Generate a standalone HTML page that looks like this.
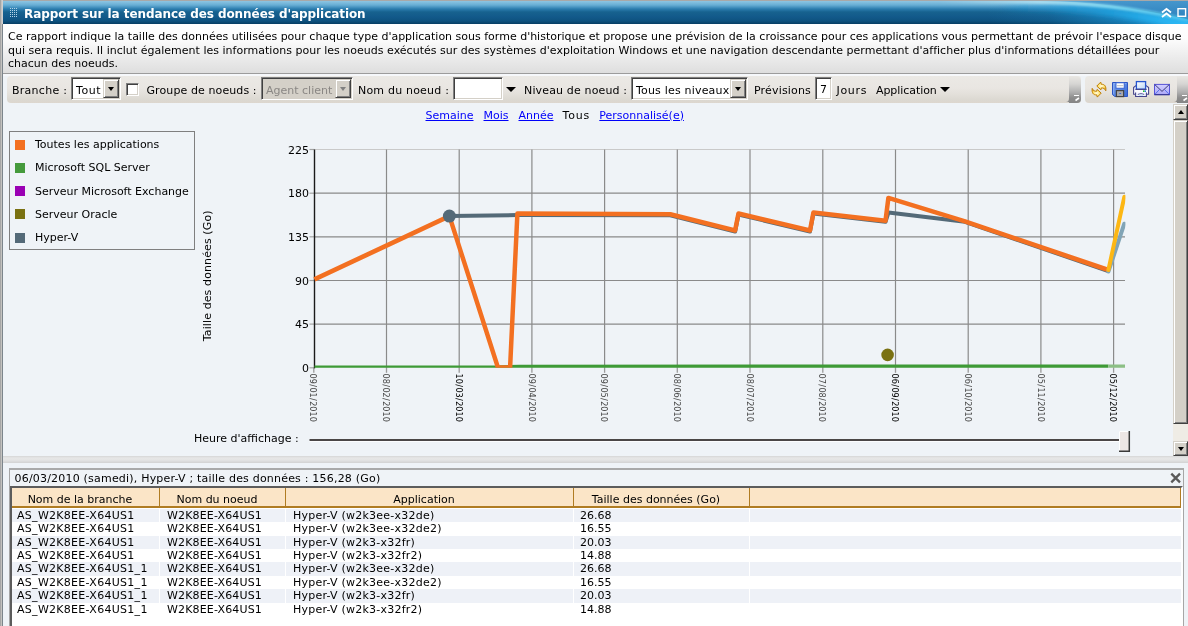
<!DOCTYPE html>
<html lang="fr">
<head>
<meta charset="utf-8">
<title>Rapport sur la tendance des données d'application</title>
<style>
html,body{margin:0;padding:0;}
body{width:1188px;height:626px;overflow:hidden;position:relative;background:#eff3f7;font-family:"DejaVu Sans","Liberation Sans",sans-serif;font-size:11px;color:#000;}
#wrap{position:absolute;left:0;top:0;width:1188px;height:626px;overflow:hidden;will-change:transform;}
.abs{position:absolute;}
.t{position:absolute;white-space:nowrap;line-height:13px;}
#lb{left:0;top:0;width:1px;height:626px;background:#a6a6a6;}
#lb2{left:1px;top:0;width:1px;height:626px;background:#c4c3c0;}
#lb3{left:2px;top:0;width:1px;height:626px;background:linear-gradient(#d0d0d0 0,#d0d0d0 24px,#7c858c 24px);}
#topline{left:0;top:0;width:1188px;height:1px;background:#a8a8a8;}
#titlebar{left:3px;top:1px;width:1185px;height:23px;background:linear-gradient(#8ec5e2 0px,#68aed5 4px,#2b7cae 8px,#17628f 11px,#12598a 16px,#0e527f 20px,#073e63 23px);overflow:hidden;}
#title{left:24px;top:7px;color:#fff;font-weight:bold;font-size:12px;line-height:15px;letter-spacing:-0.07px;}
#desc{left:3px;top:24px;width:1185px;height:49px;background:linear-gradient(#ffffff 0,#fdfdfd 14px,#ebebeb 34px,#dedede 49px);}
#descline{left:3px;top:73px;width:1185px;height:1px;background:#9c9c9c;}
#descline2{left:3px;top:74px;width:1185px;height:2px;background:#f6f8fb;}
.tb{background:linear-gradient(#ebe9e5 0,#e9e6e2 12px,#e2dfd9 19px,#dbd8d1 24px,#ddd6ce 27px);}
#tb1{left:7px;top:76px;width:1074px;height:27px;border-radius:4px 3px 3px 4px;}
#tb2{left:1085px;top:76px;width:103px;height:27px;border-radius:4px 0 0 4px;}
.grip{background:linear-gradient(#e9e7e3 0,#d6d5d3 8px,#b0b0b0 16px,#8c8c8c 22px,#868686 26px);}
#g1{left:1069px;top:76px;width:12px;height:27px;border-radius:0 5px 4px 0;}
#g2{left:1177px;top:76px;width:11px;height:27px;}
.sel{position:absolute;box-sizing:border-box;height:23px;background:#fff;border:1px solid;border-color:#808080 #fff #fff #808080;box-shadow:inset 1px 1px 0 #404040, inset -1px -1px 0 #d4d0c8;}
.sel.dis{background:#d4d0c8;}
.sel .btn{position:absolute;right:1px;top:1px;bottom:1px;width:16px;box-sizing:border-box;background:#d4d0c8;border:1px solid;border-color:#d4d0c8 #404040 #404040 #d4d0c8;box-shadow:inset 1px 1px 0 #fff, inset -1px -1px 0 #808080;}
.sel .txt{position:absolute;left:4px;top:5.5px;line-height:13px;white-space:nowrap;}
.tri{position:absolute;width:0;height:0;border-style:solid;border-color:#000 transparent transparent transparent;}
.inp{position:absolute;box-sizing:border-box;height:23px;background:#fff;border:1px solid;border-color:#808080 #fff #fff #808080;box-shadow:inset 1px 1px 0 #404040, inset -1px -1px 0 #d4d0c8;}
a.lk{color:#0000fa;text-decoration:underline;}
#sb{left:1173px;top:104px;width:15px;height:352px;background:#efece5;}
.sbb{position:absolute;left:0;width:15px;box-sizing:border-box;background:#d4d0c8;border:1px solid;border-color:#d4d0c8 #404040 #404040 #d4d0c8;box-shadow:inset 1px 1px 0 #fff, inset -1px -1px 0 #808080;}
#split{left:3px;top:456px;width:1185px;height:7px;background:linear-gradient(#d6d6d6 0,#e6e6e6 2px,#e4e4e4 4px,#d2d2d2 7px);}
#panel{left:9px;top:468px;width:1175px;height:160px;box-sizing:border-box;border:1px solid #a6a6a6;border-top:2px solid #a9a9a9;border-bottom:none;}
#tframe{left:10px;top:486px;width:1173px;height:142px;box-sizing:border-box;border:2px solid;border-color:#5c5c5c #fff #fff #5c5c5c;background:#fff;}
.hc{position:absolute;top:488px;height:18px;background:#fbe5c7;border-bottom:2px solid #b07c22;border-right:1px solid #b07c22;box-sizing:content-box;text-align:center;line-height:23px;white-space:nowrap;padding-right:11px;}
.row{position:absolute;left:12px;width:1169px;}
.row.odd{background:#eef1f7;}
.c{position:absolute;top:0;white-space:nowrap;}
.vsep{position:absolute;top:508px;width:1px;height:107px;background:#fff;}
</style>
</head>
<body>
<div id="wrap">
<div class="abs" id="titlebar"><svg width="1185" height="23" viewBox="3 1 1185 23" style="position:absolute;left:0;top:0"><defs><linearGradient id="sw1" x1="1000" y1="60" x2="1188" y2="6" gradientUnits="userSpaceOnUse"><stop offset="0" stop-color="#1f9ee0" stop-opacity="0"/><stop offset="0.3" stop-color="#1f9ee0" stop-opacity="0.12"/><stop offset="0.65" stop-color="#1f9ee0" stop-opacity="0.55"/><stop offset="1" stop-color="#27b0f0" stop-opacity="1"/></linearGradient><linearGradient id="sw2" x1="940" y1="0" x2="1188" y2="0" gradientUnits="userSpaceOnUse"><stop offset="0" stop-color="#bfeaf6" stop-opacity="0"/><stop offset="0.4" stop-color="#bfeaf6" stop-opacity="0.75"/><stop offset="0.75" stop-color="#7fdcf4" stop-opacity="0.9"/><stop offset="1" stop-color="#4cc4f0" stop-opacity="0.9"/></linearGradient><linearGradient id="sw3" x1="0" y1="1" x2="0" y2="20" gradientUnits="userSpaceOnUse"><stop offset="0" stop-color="#4696cc"/><stop offset="1" stop-color="#2a7fbc"/></linearGradient><linearGradient id="sw4" x1="1000" y1="0" x2="1188" y2="0" gradientUnits="userSpaceOnUse"><stop offset="0" stop-color="#22b2f2" stop-opacity="0"/><stop offset="0.5" stop-color="#22b2f2" stop-opacity="0.45"/><stop offset="1" stop-color="#2cbaf6" stop-opacity="0.95"/></linearGradient><filter id="bl2" x="-5%" y="-100%" width="110%" height="300%"><feGaussianBlur stdDeviation="2.2"/></filter><filter id="bl" x="-5%" y="-50%" width="110%" height="200%"><feGaussianBlur stdDeviation="1"/></filter></defs><path d="M980,1 L1030,1.5 Q1109,1.5 1188,19.5 L1188,24 L980,24 Z" fill="url(#sw1)"/><path d="M1000,7.5 L1030,7.5 Q1109,7.5 1188,26" fill="none" stroke="url(#sw4)" stroke-width="9" filter="url(#bl2)"/><path d="M1040,1 Q1112,1.5 1188,18.5 L1188,1 Z" fill="url(#sw3)"/><path d="M940,1.8 L1030,2 Q1109,2 1188,20" fill="none" stroke="url(#sw2)" stroke-width="3.6" filter="url(#bl)"/></svg></div>
<div class="abs" id="topline"></div>
<div class="abs" id="desc"></div><div class="abs" id="descline"></div><div class="abs" id="descline2"></div>
<div class="abs" id="lb"></div><div class="abs" id="lb2"></div><div class="abs" id="lb3"></div>
<svg class="abs" style="left:0;top:0" width="30" height="25" fill="#b4d4e8"><rect x="10" y="8" width="1" height="1"/><rect x="10" y="10" width="1" height="1"/><rect x="10" y="12" width="1" height="1"/><rect x="10" y="14" width="1" height="1"/><rect x="10" y="16" width="1" height="1"/><rect x="12" y="8" width="1" height="1"/><rect x="12" y="10" width="1" height="1"/><rect x="12" y="12" width="1" height="1"/><rect x="12" y="14" width="1" height="1"/><rect x="12" y="16" width="1" height="1"/><rect x="14" y="8" width="1" height="1"/><rect x="14" y="10" width="1" height="1"/><rect x="14" y="12" width="1" height="1"/><rect x="14" y="14" width="1" height="1"/><rect x="14" y="16" width="1" height="1"/><rect x="16" y="8" width="1" height="1"/><rect x="16" y="10" width="1" height="1"/><rect x="16" y="12" width="1" height="1"/><rect x="16" y="14" width="1" height="1"/><rect x="16" y="16" width="1" height="1"/></svg>
<div class="t" id="title">Rapport sur la tendance des données d'application</div>
<svg class="abs" style="left:1158px;top:5px" width="30" height="16" viewBox="1158 5 30 16"><path d="M1162,12.5 L1166.5,9 L1171,12.5 M1162,17 L1166.5,13.5 L1171,17" fill="none" stroke="#fff" stroke-width="1.8"/><rect x="1178" y="8.7" width="7.6" height="7.6" fill="none" stroke="#fff" stroke-width="1.4"/></svg>
<div class="t" style="left:8px;top:30px;">Ce rapport indique la taille des données utilisées pour chaque type d'application sous forme d'historique et propose une prévision de la croissance pour ces applications vous permettant de prévoir l'espace disque</div>
<div class="t" style="left:8px;top:44px;letter-spacing:0.015px">qui sera requis. Il inclut également les informations pour les noeuds exécutés sur des systèmes d'exploitation Windows et une navigation descendante permettant d'afficher plus d'informations détaillées pour</div>
<div class="t" style="left:8px;top:57px;">chacun des noeuds.</div>
<div class="abs tb" id="tb1"></div><div class="abs grip" id="g1"></div>
<div class="abs tb" id="tb2"></div><div class="abs grip" id="g2"></div>
<svg class="abs" style="left:1066px;top:76px" width="122" height="27" viewBox="1066 76 122 27"><path d="M1066,102 Q1069,102 1069,98 L1069,102 Z" fill="#8a8a8a"/><rect x="1074" y="95" width="5" height="1" fill="#fff"/><path d="M1075.5,100.5 L1079,98" stroke="#fff" stroke-width="1.6" fill="none"/><path d="M1174,102 Q1177,102 1177,98 L1177,102 Z" fill="#8a8a8a"/><rect x="1182" y="95" width="5" height="1" fill="#fff"/><path d="M1183.5,100.5 L1187,98" stroke="#fff" stroke-width="1.6" fill="none"/></svg>
<div class="t" style="left:12px;top:83.5px;letter-spacing:0.27px">Branche :</div>
<div class="sel" style="left:71px;top:77px;width:50px;"><span class="txt" style="letter-spacing:0.6px">Tout</span><span class="btn"></span><span class="tri" style="left:36px;top:9px;border-width:4px 3.5px 0 3.5px;"></span></div>
<div class="inp" style="left:126px;top:83px;width:13px;height:13px;"></div>
<div class="t" style="left:146.5px;top:83.5px;letter-spacing:0.1px">Groupe de noeuds :</div>
<div class="sel dis" style="left:261px;top:77px;width:92px;"><span class="txt" style="color:#8a8784">Agent client</span><span class="btn"></span><span class="tri" style="left:78px;top:9px;border-width:4px 3.5px 0 3.5px;border-top-color:#808080"></span></div>
<div class="t" style="left:358px;top:83.5px;letter-spacing:0.2px">Nom du noeud :</div>
<div class="inp" style="left:453px;top:77px;width:50px;"></div>
<span class="tri" style="left:506px;top:87px;border-width:5px 5px 0 5px;"></span>
<div class="t" style="left:524px;top:83.5px;letter-spacing:0.15px">Niveau de noeud :</div>
<div class="sel" style="left:631px;top:77px;width:117px;"><span class="txt" style="letter-spacing:0.19px">Tous les niveaux</span><span class="btn"></span><span class="tri" style="left:103px;top:9px;border-width:4px 3.5px 0 3.5px;"></span></div>
<div class="t" style="left:754px;top:83.5px;letter-spacing:0.17px">Prévisions</div>
<div class="inp" style="left:815px;top:77px;width:17px;"><span class="t" style="left:4px;top:4.5px">7</span></div>
<div class="t" style="left:836.5px;top:83.5px;letter-spacing:0.7px">Jours</div>
<div class="t" style="left:876px;top:83.5px;letter-spacing:-0.07px">Application</div>
<span class="tri" style="left:939.5px;top:87px;border-width:5px 5px 0 5px;"></span>
<svg class="abs" style="left:1088px;top:78px" width="86" height="22" viewBox="1088 78 86 22">
<defs><radialGradient id="gy" cx="0.5" cy="0.45" r="0.6"><stop offset="0" stop-color="#fffce8"/><stop offset="0.55" stop-color="#ffe36e"/><stop offset="1" stop-color="#f8b418"/></radialGradient><linearGradient id="gb" x1="0" y1="0" x2="1" y2="1"><stop offset="0" stop-color="#7da6ee"/><stop offset="1" stop-color="#3467d6"/></linearGradient><linearGradient id="gp" x1="0" y1="0" x2="1" y2="1"><stop offset="0" stop-color="#ffffff"/><stop offset="1" stop-color="#b9d6f7"/></linearGradient><linearGradient id="gm" x1="0" y1="0" x2="0" y2="1"><stop offset="0" stop-color="#d2cfff"/><stop offset="1" stop-color="#aca8f8"/></linearGradient></defs>
<g stroke="#bd7d08" stroke-width="1" stroke-linejoin="round" fill="url(#gy)"><path d="M1096.8,86.1 L1100.7,82.1 L1101.4,84.4 C1104.6,83.9 1106.4,86.4 1105.8,90.8 C1104.9,88.6 1103.4,87.8 1101.4,87.9 L1100.9,89.8 Z"/><path d="M1096.8,86.1 L1100.7,82.1 L1101.4,84.4 C1104.6,83.9 1106.4,86.4 1105.8,90.8 C1104.9,88.6 1103.4,87.8 1101.4,87.9 L1100.9,89.8 Z" transform="rotate(180 1099 89.6)"/></g>
<path d="M1112.5,82.5 L1127.5,82.5 L1127.5,96.5 L1114.8,96.5 L1112.5,94.6 Z" fill="url(#gb)" stroke="#2c55c4" stroke-width="1"/>
<path d="M1113.6,94 L1113.6,83.6 L1126.4,83.6" fill="none" stroke="#8fb3f2" stroke-width="0.8"/>
<rect x="1116" y="82.8" width="8.2" height="5.4" fill="#fff" stroke="#2f5bd0" stroke-width="0.9"/><rect x="1117" y="85.2" width="6.2" height="1" fill="#b9bdc1"/>
<rect x="1116.4" y="90.6" width="7.2" height="6" fill="#a9a9ab" stroke="#454545" stroke-width="1.2"/><rect x="1119.3" y="93" width="1.8" height="1" fill="#3a66d6"/>
<path d="M1133.6,87.5 L1136,85.6 L1146,85.6 L1148.6,87.5 L1148.6,94.3 L1133.6,94.3 Z" fill="#fafaff" stroke="#45458c" stroke-width="1.1" stroke-linejoin="round"/>
<rect x="1136.4" y="81.6" width="9.2" height="7.6" fill="url(#gp)" stroke="#2756cf" stroke-width="1.3"/>
<path d="M1135.4,89.4 L1146.6,89.4" stroke="#45458c" stroke-width="1.1"/>
<rect x="1143" y="90.4" width="1.6" height="1.6" fill="#27c227"/><rect x="1144.6" y="90.4" width="1.4" height="1.6" fill="#2a78e0"/>
<path d="M1135.6,92.6 L1135.6,96.5 L1146.4,96.5 L1146.4,92.6" fill="#f4f6ff" stroke="#45458c" stroke-width="1.1"/>
<path d="M1137.8,94.4 Q1141,92.8 1144.2,94.4" fill="none" stroke="#45458c" stroke-width="0.9"/><rect x="1139" y="94.5" width="4" height="1.2" fill="#bcdcf8"/>
<rect x="1154.5" y="84.4" width="15" height="10.2" fill="url(#gm)" stroke="#5654d6" stroke-width="1"/>
<path d="M1154.5,94.7 L1169.5,94.7" stroke="#34348e" stroke-width="1.1"/>
<path d="M1155,94.2 L1159.4,89.6 M1169,94.2 L1164.6,89.6" stroke="#4a6ae8" stroke-width="0.9" fill="none"/>
<path d="M1154.8,84.6 L1162,91.4 L1169.2,84.6" stroke="#3c3c78" stroke-width="1" fill="none"/>
</svg>
<div class="t" style="left:425.5px;top:108.7px;"><a class="lk">Semaine</a></div>
<div class="t" style="left:483.5px;top:108.7px;"><a class="lk">Mois</a></div>
<div class="t" style="left:518.5px;top:108.7px;"><a class="lk">Année</a></div>
<div class="t" style="left:562.5px;top:108.7px;letter-spacing:0.8px">Tous</div>
<div class="t" style="left:599.3px;top:108.7px;"><a class="lk">Personnalisé(e)</a></div>
<div class="abs" id="sb"><div class="sbb" style="top:0;height:16px"></div><div class="sbb" style="top:16px;height:304px"></div><div class="sbb" style="top:337px;height:15px"></div><span class="tri" style="left:5px;top:6px;border-width:0 3.5px 4px 3.5px;border-color:transparent transparent #000 transparent"></span><span class="tri" style="left:5px;top:342.5px;border-width:4px 3.5px 0 3.5px;"></span></div>
<div class="abs" style="left:9px;top:131px;width:186px;height:119px;box-sizing:border-box;border:1px solid #7f7f7f;"></div>
<div class="abs" style="left:15px;top:139.5px;width:10px;height:10px;background:#f37021"></div>
<div class="t" style="left:35px;top:138.1px;">Toutes les applications</div>
<div class="abs" style="left:15px;top:162.8px;width:10px;height:10px;background:#459a3c"></div>
<div class="t" style="left:35px;top:161.4px;">Microsoft SQL Server</div>
<div class="abs" style="left:15px;top:186.1px;width:10px;height:10px;background:#9a00b4"></div>
<div class="t" style="left:35px;top:184.7px;">Serveur Microsoft Exchange</div>
<div class="abs" style="left:15px;top:209.4px;width:10px;height:10px;background:#7a7112"></div>
<div class="t" style="left:35px;top:208.0px;">Serveur Oracle</div>
<div class="abs" style="left:15px;top:232.7px;width:10px;height:10px;background:#546a78"></div>
<div class="t" style="left:35px;top:231.3px;">Hyper-V</div>
<svg class="abs" style="left:0;top:104px" width="1172" height="352" viewBox="0 104 1172 352" font-family="'DejaVu Sans','Liberation Sans',sans-serif">
<g><line x1="314.5" y1="149.5" x2="1125" y2="149.5" stroke="#c9c9c9" stroke-width="1.2"/><line x1="314.5" y1="193.2" x2="1125" y2="193.2" stroke="#8a8a8a" stroke-width="1.2"/><line x1="314.5" y1="236.8" x2="1125" y2="236.8" stroke="#8a8a8a" stroke-width="1.2"/><line x1="314.5" y1="280.5" x2="1125" y2="280.5" stroke="#8a8a8a" stroke-width="1.2"/><line x1="314.5" y1="324.1" x2="1125" y2="324.1" stroke="#8a8a8a" stroke-width="1.2"/><line x1="386.5" y1="149.5" x2="386.5" y2="367.8" stroke="#8a8a8a" stroke-width="1.2"/><line x1="459.2" y1="149.5" x2="459.2" y2="367.8" stroke="#8a8a8a" stroke-width="1.2"/><line x1="531.9" y1="149.5" x2="531.9" y2="367.8" stroke="#8a8a8a" stroke-width="1.2"/><line x1="604.6" y1="149.5" x2="604.6" y2="367.8" stroke="#8a8a8a" stroke-width="1.2"/><line x1="677.3" y1="149.5" x2="677.3" y2="367.8" stroke="#8a8a8a" stroke-width="1.2"/><line x1="750.0" y1="149.5" x2="750.0" y2="367.8" stroke="#8a8a8a" stroke-width="1.2"/><line x1="822.8" y1="149.5" x2="822.8" y2="367.8" stroke="#8a8a8a" stroke-width="1.2"/><line x1="895.5" y1="149.5" x2="895.5" y2="367.8" stroke="#8a8a8a" stroke-width="1.2"/><line x1="968.2" y1="149.5" x2="968.2" y2="367.8" stroke="#8a8a8a" stroke-width="1.2"/><line x1="1040.9" y1="149.5" x2="1040.9" y2="367.8" stroke="#8a8a8a" stroke-width="1.2"/><line x1="1113.6" y1="149.5" x2="1113.6" y2="367.8" stroke="#8a8a8a" stroke-width="1.2"/><line x1="309.5" y1="149.5" x2="314.5" y2="149.5" stroke="#a4a4a4" stroke-width="1.2"/><line x1="309.5" y1="193.2" x2="314.5" y2="193.2" stroke="#a4a4a4" stroke-width="1.2"/><line x1="309.5" y1="236.8" x2="314.5" y2="236.8" stroke="#a4a4a4" stroke-width="1.2"/><line x1="309.5" y1="280.5" x2="314.5" y2="280.5" stroke="#a4a4a4" stroke-width="1.2"/><line x1="309.5" y1="324.1" x2="314.5" y2="324.1" stroke="#a4a4a4" stroke-width="1.2"/><line x1="309.5" y1="367.8" x2="314.5" y2="367.8" stroke="#a4a4a4" stroke-width="1.2"/><line x1="313.8" y1="367.8" x2="313.8" y2="372.8" stroke="#9a9a9a" stroke-width="1.3"/><line x1="386.5" y1="367.8" x2="386.5" y2="372.8" stroke="#9a9a9a" stroke-width="1.3"/><line x1="459.2" y1="367.8" x2="459.2" y2="372.8" stroke="#9a9a9a" stroke-width="1.3"/><line x1="531.9" y1="367.8" x2="531.9" y2="372.8" stroke="#9a9a9a" stroke-width="1.3"/><line x1="604.6" y1="367.8" x2="604.6" y2="372.8" stroke="#9a9a9a" stroke-width="1.3"/><line x1="677.3" y1="367.8" x2="677.3" y2="372.8" stroke="#9a9a9a" stroke-width="1.3"/><line x1="750.0" y1="367.8" x2="750.0" y2="372.8" stroke="#9a9a9a" stroke-width="1.3"/><line x1="822.8" y1="367.8" x2="822.8" y2="372.8" stroke="#9a9a9a" stroke-width="1.3"/><line x1="895.5" y1="367.8" x2="895.5" y2="372.8" stroke="#9a9a9a" stroke-width="1.3"/><line x1="968.2" y1="367.8" x2="968.2" y2="372.8" stroke="#9a9a9a" stroke-width="1.3"/><line x1="1040.9" y1="367.8" x2="1040.9" y2="372.8" stroke="#9a9a9a" stroke-width="1.3"/><line x1="1113.6" y1="367.8" x2="1113.6" y2="372.8" stroke="#9a9a9a" stroke-width="1.3"/></g>
<line x1="314.5" y1="149.5" x2="314.5" y2="368.3" stroke="#1a1a1a" stroke-width="1.4"/>
<text x="309" y="153.7" font-size="11" text-anchor="end">225</text>
<text x="309" y="197.4" font-size="11" text-anchor="end">180</text>
<text x="309" y="241.0" font-size="11" text-anchor="end">135</text>
<text x="309" y="284.7" font-size="11" text-anchor="end">90</text>
<text x="309" y="328.3" font-size="11" text-anchor="end">45</text>
<text x="309" y="372.0" font-size="11" text-anchor="end">0</text>
<text transform="translate(310.4,373.6) rotate(90)" font-size="8.15" fill="#484848">09<tspan dx="0.35">/</tspan><tspan dx="0.35">01</tspan><tspan dx="0.35">/</tspan><tspan dx="0.35">2010</tspan></text>
<text transform="translate(383.1,373.6) rotate(90)" font-size="8.15" fill="#484848">08<tspan dx="0.35">/</tspan><tspan dx="0.35">02</tspan><tspan dx="0.35">/</tspan><tspan dx="0.35">2010</tspan></text>
<text transform="translate(455.8,373.6) rotate(90)" font-size="8.15" fill="#000">10<tspan dx="0.35">/</tspan><tspan dx="0.35">03</tspan><tspan dx="0.35">/</tspan><tspan dx="0.35">2010</tspan></text>
<text transform="translate(528.5,373.6) rotate(90)" font-size="8.15" fill="#484848">09<tspan dx="0.35">/</tspan><tspan dx="0.35">04</tspan><tspan dx="0.35">/</tspan><tspan dx="0.35">2010</tspan></text>
<text transform="translate(601.2,373.6) rotate(90)" font-size="8.15" fill="#484848">09<tspan dx="0.35">/</tspan><tspan dx="0.35">05</tspan><tspan dx="0.35">/</tspan><tspan dx="0.35">2010</tspan></text>
<text transform="translate(673.9,373.6) rotate(90)" font-size="8.15" fill="#484848">08<tspan dx="0.35">/</tspan><tspan dx="0.35">06</tspan><tspan dx="0.35">/</tspan><tspan dx="0.35">2010</tspan></text>
<text transform="translate(746.6,373.6) rotate(90)" font-size="8.15" fill="#484848">08<tspan dx="0.35">/</tspan><tspan dx="0.35">07</tspan><tspan dx="0.35">/</tspan><tspan dx="0.35">2010</tspan></text>
<text transform="translate(819.4,373.6) rotate(90)" font-size="8.15" fill="#484848">07<tspan dx="0.35">/</tspan><tspan dx="0.35">08</tspan><tspan dx="0.35">/</tspan><tspan dx="0.35">2010</tspan></text>
<text transform="translate(892.1,373.6) rotate(90)" font-size="8.15" fill="#000">06<tspan dx="0.35">/</tspan><tspan dx="0.35">09</tspan><tspan dx="0.35">/</tspan><tspan dx="0.35">2010</tspan></text>
<text transform="translate(964.8,373.6) rotate(90)" font-size="8.15" fill="#484848">06<tspan dx="0.35">/</tspan><tspan dx="0.35">10</tspan><tspan dx="0.35">/</tspan><tspan dx="0.35">2010</tspan></text>
<text transform="translate(1037.5,373.6) rotate(90)" font-size="8.15" fill="#484848">05<tspan dx="0.35">/</tspan><tspan dx="0.35">11</tspan><tspan dx="0.35">/</tspan><tspan dx="0.35">2010</tspan></text>
<text transform="translate(1110.2,373.6) rotate(90)" font-size="8.15" fill="#000">05<tspan dx="0.35">/</tspan><tspan dx="0.35">12</tspan><tspan dx="0.35">/</tspan><tspan dx="0.35">2010</tspan></text>
<text transform="translate(211.3,341.2) rotate(-90)" font-size="11" letter-spacing="0.11">Taille des données (Go)</text>
<clipPath id="pc"><rect x="313" y="140" width="812.4" height="227.8"/></clipPath><g clip-path="url(#pc)">
<polyline points="314.5,367.2 500,367 520,366.4 1108.4,366.2" fill="none" stroke="#3e9a36" stroke-width="3.4"/>
<line x1="1108.4" y1="366.2" x2="1125" y2="366.2" stroke="#8cbf85" stroke-width="3.4"/>
<polyline points="449.4,216.1 517.4,215.1 670.3,215.3 735.1,231.5 738.5,214.5 810,231.5 813.4,213.6 885.5,221.8 888.4,212.6 965,221.8 1108.4,271.2" fill="none" stroke="#546a78" stroke-width="4" stroke-linejoin="round"/>
<polyline points="314.4,279.4 449.4,216.1 497.9,367.4 510.1,367.4 517.4,213.5 670.3,214.3 735.1,230.5 738.5,213.5 810,230.5 813.4,212.6 885.5,220.8 888.4,197.9 965,221.3 1108.4,270" fill="none" stroke="#f37021" stroke-width="4.5" stroke-linejoin="round"/>
<line x1="1108.4" y1="271.5" x2="1124.3" y2="223.7" stroke="#81a4b6" stroke-width="4" stroke-linecap="round"/>
<line x1="1108.4" y1="270" x2="1124.3" y2="196.8" stroke="#fdb714" stroke-width="4" stroke-linecap="round"/>
</g>
<circle cx="449.4" cy="216.1" r="6.5" fill="#546a78"/>
<circle cx="887.6" cy="354.9" r="6.3" fill="#7a7112"/>
<rect x="309.5" y="439" width="812" height="2" fill="#4a4646"/><rect x="309.5" y="441" width="812" height="1" fill="#fff" opacity="0.8"/>
<rect x="1119" y="431" width="11" height="21" fill="#ede6e4"/><path d="M1119.5,451.5 L1119.5,431.5 L1129.5,431.5" fill="none" stroke="#fff" stroke-width="1"/><path d="M1119,451.3 L1129.3,451.3 L1129.3,431" fill="none" stroke="#3a3a3a" stroke-width="1.5"/>
</svg>
<div class="t" style="left:194px;top:431.5px;">Heure d'affichage :</div>
<div class="abs" id="split"></div>
<div class="abs" id="panel"></div>
<div class="t" style="left:14.5px;top:471.8px;letter-spacing:0.2px">06/03/2010 (samedi), Hyper-V ; taille des données : 156,28 (Go)</div>
<svg class="abs" style="left:1168px;top:470px" width="16" height="16" viewBox="1168 470 16 16"><path d="M1171.3,473.6 L1180,482.4 M1180,473.6 L1171.3,482.4" stroke="#5a5a5a" stroke-width="2.3" fill="none"/></svg>
<div class="abs" id="tframe"></div>
<div class="hc" style="left:12px;width:136px;">Nom de la branche</div>
<div class="hc" style="left:160px;width:114px;">Nom du noeud</div>
<div class="hc" style="left:286px;width:276px;">Application</div>
<div class="hc" style="left:574px;width:164px;">Taille des données (Go)</div>
<div class="hc" style="left:750px;width:419px;"></div>
<div class="row odd" style="top:509.00px;height:13.37px;line-height:13.37px"><span class="c" style="left:5px;letter-spacing:0.29px">AS_W2K8EE-X64US1</span><span class="c" style="left:155px;letter-spacing:0.15px">W2K8EE-X64US1</span><span class="c" style="left:281px;letter-spacing:0.23px">Hyper-V (w2k3ee-x32de)</span><span class="c" style="left:568px;letter-spacing:0px">26.68</span></div>
<div class="row" style="top:522.37px;height:13.37px;line-height:13.37px"><span class="c" style="left:5px;letter-spacing:0.29px">AS_W2K8EE-X64US1</span><span class="c" style="left:155px;letter-spacing:0.15px">W2K8EE-X64US1</span><span class="c" style="left:281px;letter-spacing:0.23px">Hyper-V (w2k3ee-x32de2)</span><span class="c" style="left:568px;letter-spacing:0px">16.55</span></div>
<div class="row odd" style="top:535.74px;height:13.37px;line-height:13.37px"><span class="c" style="left:5px;letter-spacing:0.29px">AS_W2K8EE-X64US1</span><span class="c" style="left:155px;letter-spacing:0.15px">W2K8EE-X64US1</span><span class="c" style="left:281px;letter-spacing:0.23px">Hyper-V (w2k3-x32fr)</span><span class="c" style="left:568px;letter-spacing:0px">20.03</span></div>
<div class="row" style="top:549.11px;height:13.37px;line-height:13.37px"><span class="c" style="left:5px;letter-spacing:0.29px">AS_W2K8EE-X64US1</span><span class="c" style="left:155px;letter-spacing:0.15px">W2K8EE-X64US1</span><span class="c" style="left:281px;letter-spacing:0.23px">Hyper-V (w2k3-x32fr2)</span><span class="c" style="left:568px;letter-spacing:0px">14.88</span></div>
<div class="row odd" style="top:562.48px;height:13.37px;line-height:13.37px"><span class="c" style="left:5px;letter-spacing:0.29px">AS_W2K8EE-X64US1_1</span><span class="c" style="left:155px;letter-spacing:0.15px">W2K8EE-X64US1</span><span class="c" style="left:281px;letter-spacing:0.23px">Hyper-V (w2k3ee-x32de)</span><span class="c" style="left:568px;letter-spacing:0px">26.68</span></div>
<div class="row" style="top:575.85px;height:13.37px;line-height:13.37px"><span class="c" style="left:5px;letter-spacing:0.29px">AS_W2K8EE-X64US1_1</span><span class="c" style="left:155px;letter-spacing:0.15px">W2K8EE-X64US1</span><span class="c" style="left:281px;letter-spacing:0.23px">Hyper-V (w2k3ee-x32de2)</span><span class="c" style="left:568px;letter-spacing:0px">16.55</span></div>
<div class="row odd" style="top:589.22px;height:13.37px;line-height:13.37px"><span class="c" style="left:5px;letter-spacing:0.29px">AS_W2K8EE-X64US1_1</span><span class="c" style="left:155px;letter-spacing:0.15px">W2K8EE-X64US1</span><span class="c" style="left:281px;letter-spacing:0.23px">Hyper-V (w2k3-x32fr)</span><span class="c" style="left:568px;letter-spacing:0px">20.03</span></div>
<div class="row" style="top:602.59px;height:13.37px;line-height:13.37px"><span class="c" style="left:5px;letter-spacing:0.29px">AS_W2K8EE-X64US1_1</span><span class="c" style="left:155px;letter-spacing:0.15px">W2K8EE-X64US1</span><span class="c" style="left:281px;letter-spacing:0.23px">Hyper-V (w2k3-x32fr2)</span><span class="c" style="left:568px;letter-spacing:0px">14.88</span></div>
<div class="vsep" style="left:159px"></div>
<div class="vsep" style="left:285px"></div>
<div class="vsep" style="left:573px"></div>
<div class="vsep" style="left:749px"></div>
</div>
</body>
</html>
